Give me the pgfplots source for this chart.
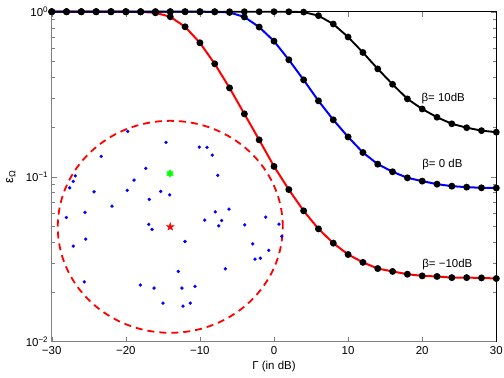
\documentclass[border=0pt]{standalone}
\usepackage{fontspec}
\setmainfont{Liberation Sans}
\usepackage{pgfplots}
\pgfplotsset{compat=1.18}

% filled five- and six-pointed stars (MATLAB 'p' and 'h' markers)
\pgfdeclareplotmark{pentagram}{%
  \pgfpathmoveto{\pgfpointpolar{90}{\pgfplotmarksize}}%
  \pgfpathlineto{\pgfpointpolar{126}{0.4\pgfplotmarksize}}%
  \pgfpathlineto{\pgfpointpolar{162}{\pgfplotmarksize}}%
  \pgfpathlineto{\pgfpointpolar{198}{0.4\pgfplotmarksize}}%
  \pgfpathlineto{\pgfpointpolar{234}{\pgfplotmarksize}}%
  \pgfpathlineto{\pgfpointpolar{270}{0.4\pgfplotmarksize}}%
  \pgfpathlineto{\pgfpointpolar{306}{\pgfplotmarksize}}%
  \pgfpathlineto{\pgfpointpolar{342}{0.4\pgfplotmarksize}}%
  \pgfpathlineto{\pgfpointpolar{18}{\pgfplotmarksize}}%
  \pgfpathlineto{\pgfpointpolar{54}{0.4\pgfplotmarksize}}%
  \pgfpathclose\pgfusepathqfillstroke}
\pgfdeclareplotmark{hexagram}{%
  \pgfpathmoveto{\pgfpointpolar{90}{\pgfplotmarksize}}%
  \pgfpathlineto{\pgfpointpolar{120}{0.58\pgfplotmarksize}}%
  \pgfpathlineto{\pgfpointpolar{150}{\pgfplotmarksize}}%
  \pgfpathlineto{\pgfpointpolar{180}{0.58\pgfplotmarksize}}%
  \pgfpathlineto{\pgfpointpolar{210}{\pgfplotmarksize}}%
  \pgfpathlineto{\pgfpointpolar{240}{0.58\pgfplotmarksize}}%
  \pgfpathlineto{\pgfpointpolar{270}{\pgfplotmarksize}}%
  \pgfpathlineto{\pgfpointpolar{300}{0.58\pgfplotmarksize}}%
  \pgfpathlineto{\pgfpointpolar{330}{\pgfplotmarksize}}%
  \pgfpathlineto{\pgfpointpolar{0}{0.58\pgfplotmarksize}}%
  \pgfpathlineto{\pgfpointpolar{30}{\pgfplotmarksize}}%
  \pgfpathlineto{\pgfpointpolar{60}{0.58\pgfplotmarksize}}%
  \pgfpathclose\pgfusepathqfillstroke}

\begin{document}
\begin{tikzpicture}[font=\fontsize{11.5}{13}\selectfont]
\begin{semilogyaxis}[
  name=ax,
  scale only axis, width=444.6bp, height=329.8bp,
  xmin=-30, xmax=30, ymin=0.01, ymax=1,
  xtick={-30,-20,...,30},
  xticklabels={−30,−20,−10,0,10,20,30},
  ytick={0.01,0.1,1},
  yticklabels={10\textsuperscript{−2},10\textsuperscript{−1},10\textsuperscript{0}},
  xticklabel style={yshift=-1bp},
  tick align=inside,
  major tick length=5bp, minor tick length=3bp,
  axis line style={line width=0.5bp},
  clip=false,
  xlabel={Γ (in dB)},
  xlabel style={at={(axis description cs:0.5,0)}, anchor=center, yshift=-25.5bp},
  ylabel={\fontsize{13}{13}\selectfont ε\textsubscript{Ω}},
  ylabel style={at={(axis description cs:-0.092,0.5)}, anchor=center},
]
% users in the cell and the coverage circle
\addplot[only marks, mark=*, mark size=1.5bp, color=blue] coordinates {
(-19.74,0.188) (-14.57,0.1612) (-23.31,0.1326) (-17.31,0.1122) (-26.82,0.1011)
(-27.09,0.0935) (-18.89,0.0953) (-27.57,0.0855) (-24.29,0.0809) (-19.80,0.0825)
(-15.29,0.0813) (-14.08,0.0775) (-16.83,0.0727) (-21.86,0.0662) (-25.51,0.0607)
(-28.03,0.0565) (-16.91,0.0513) (-16.46,0.0478) (-25.41,0.0418) (-27.09,0.0379)
(-25.60,0.0230) (-18.04,0.0220) (-16.19,0.0211) (-14.98,0.0171)
(-10.08,0.151) (-9.04,0.1504) (-8.33,0.1350) (-7.60,0.1017) (-6.07,0.0635)
(-7.92,0.0611) (-1.12,0.0568) (-9.35,0.0545) (-7.06,0.0542) (-7.46,0.0503)
(-3.95,0.0510) (0.67,0.0515) (1.04,0.0434) (-12.01,0.0404) (-2.87,0.0391)
(-0.72,0.0357) (-2.56,0.0316) (-1.85,0.0320) (-12.91,0.0266) (-6.57,0.0276)
(-12.42,0.0211) (-10.66,0.0216) (-12.28,0.0164) (-11.30,0.0171)
};
\addplot[only marks, mark=hexagram, mark size=3.8bp, color=green] coordinates {(-14.04,0.1045)};
\addplot[only marks, mark=pentagram, mark size=4bp, color=red] coordinates {(-14.0,0.0496)};
\draw[red, line width=1.8bp, dash pattern=on 7bp off 5bp]
  (axis cs:-14.0,0.0496) ellipse [x radius=112.5bp, y radius=106bp];

% beta = -10 dB
\addplot[red, line width=2bp, mark=*, mark size=2.4bp, mark options={fill=black, draw=black}] coordinates {
(-30,1) (-28,1) (-26,1) (-24,1) (-22,1) (-20,1) (-18,0.998) (-16,0.985)
(-14,0.932) (-12,0.81) (-10,0.648) (-8,0.483) (-6,0.345) (-4,0.240) (-2,0.167)
(0,0.1153) (2,0.0834) (4,0.0620) (6,0.0482) (8,0.0395) (10,0.0337) (12,0.0302)
(14,0.0277) (16,0.0266) (18,0.0256) (20,0.0250) (22,0.0248) (24,0.0244)
(26,0.0244) (28,0.0243) (30,0.0241)
};
% beta = 0 dB
\addplot[blue, line width=2bp, mark=*, mark size=2.4bp, mark options={fill=black, draw=black}] coordinates {
(-30,1) (-28,1) (-26,1) (-24,1) (-22,1) (-20,1) (-18,1) (-16,1) (-14,1)
(-12,1) (-10,1) (-8,0.998) (-6,0.99) (-4,0.929) (-2,0.807) (0,0.663) (2,0.511)
(4,0.386) (6,0.288) (8,0.221) (10,0.174) (12,0.140) (14,0.119) (16,0.107)
(18,0.0983) (20,0.0939) (22,0.0900) (24,0.0875) (26,0.0863) (28,0.0855) (30,0.0853)
};
% beta = 10 dB
\addplot[black, line width=1.9bp, mark=*, mark size=2.4bp, mark options={fill=black}] coordinates {
(-30,1) (-28,1) (-26,1) (-24,1) (-22,1) (-20,1) (-18,1) (-16,1) (-14,1)
(-12,1) (-10,1) (-8,1) (-6,1) (-4,1) (-2,1) (0,1) (2,0.999) (4,0.995)
(6,0.946) (8,0.842) (10,0.702) (12,0.566) (14,0.450) (16,0.363) (18,0.296)
(20,0.257) (22,0.229) (24,0.209) (26,0.198) (28,0.190) (30,0.186)
};

\node[anchor=west, inner sep=0pt] at (axis cs:19.9,0.296) {β= 10dB};
\node[anchor=west, inner sep=0pt] at (axis cs:20,0.119) {β= 0 dB};
\node[anchor=west, inner sep=0pt] at (axis cs:20,0.0294) {β= −10dB};

\draw[gray, line width=1bp] (rel axis cs:0,1) -- (rel axis cs:0,0) -- (rel axis cs:1,0);
\end{semilogyaxis}
\pgfresetboundingbox
\path ([shift={(-51.7bp,-36.5bp)}]ax.south west) rectangle ([shift={(7.7bp,11.7bp)}]ax.north east);
\end{tikzpicture}
\end{document}
